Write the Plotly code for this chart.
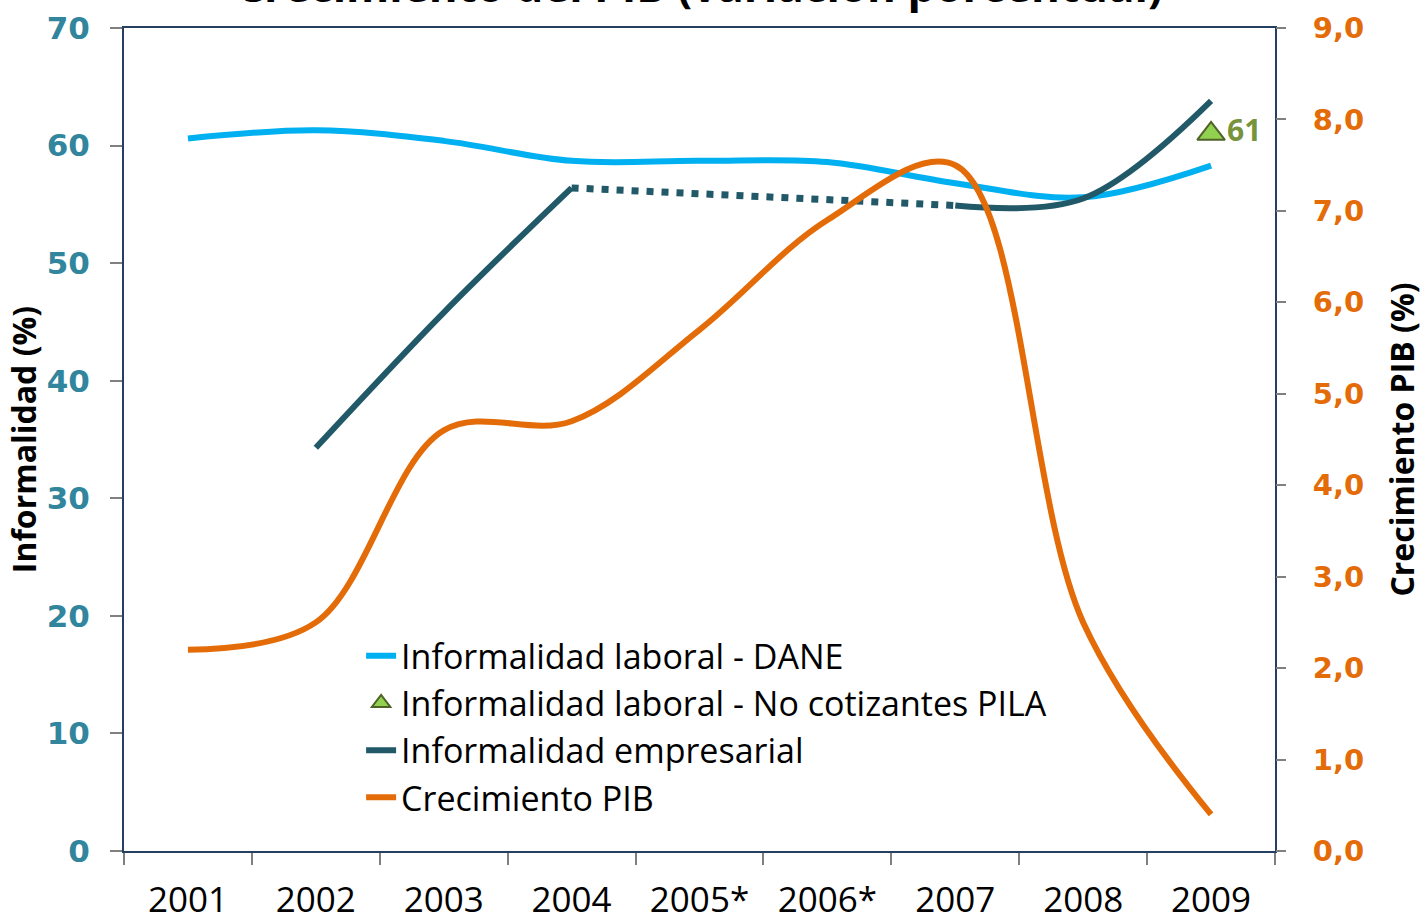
import plotly.graph_objects as go

years = ["2001", "2002", "2003", "2004", "2005*", "2006*", "2007", "2008", "2009"]
dane = [60.6, 61.3, 60.4, 58.7, 58.7, 58.6, 56.8, 55.6, 58.3]
empresarial = [None, 34.3, 45.8, 56.4, None, None, 54.9, 55.5, 63.8]
empresarial_gap = [None, None, None, 56.4, None, None, 54.9, None, None]
pila_year = ["2009"]
pila = [61]
pib = [2.2, 2.5, 4.6, 4.7, 5.7, 6.9, 7.5, 2.5, 0.4]

C_DANE = "#00B0F0"
C_EMP = "#215968"
C_PIB = "#E36C09"
C_LEFT = "#31859C"
C_NAVY = "#243F60"

fig = go.Figure()

fig.add_trace(go.Scatter(
    x=years, y=dane, mode="lines", name="Informalidad laboral - DANE",
    line=dict(color=C_DANE, width=6, shape="spline"), yaxis="y"))
fig.add_trace(go.Scatter(
    x=pila_year, y=pila, mode="markers+text", name="Informalidad laboral - No cotizantes PILA",
    marker=dict(symbol="triangle-up", size=24, color="#92D050",
                line=dict(color="#4F6228", width=2)),
    text=[str(v) for v in pila], textposition="middle right",
    textfont=dict(family="Open Sans", size=30, color="#77933C", weight="bold"),
    yaxis="y"))
fig.add_trace(go.Scatter(
    x=years, y=empresarial, mode="lines", name="Informalidad empresarial",
    line=dict(color=C_EMP, width=6, shape="spline"), connectgaps=False, yaxis="y"))
fig.add_trace(go.Scatter(
    x=years, y=empresarial_gap, mode="lines", showlegend=False,
    line=dict(color=C_EMP, width=7, dash="7px,8px"), connectgaps=True, yaxis="y"))
fig.add_trace(go.Scatter(
    x=years, y=pib, mode="lines", name="Crecimiento PIB",
    line=dict(color=C_PIB, width=6, shape="spline"), yaxis="y2"))

fig.update_layout(
    width=1424, height=919,
    margin=dict(l=124, r=149, t=28, b=68, pad=0),
    paper_bgcolor="white", plot_bgcolor="white",
    separators=",.",
    showlegend=True,
    legend=dict(x=0.206, y=0.272, xanchor="left", yanchor="top",
                bgcolor="rgba(0,0,0,0)",
                font=dict(family="Open Sans", size=34, color="black"),
                tracegroupgap=0, itemwidth=30),
    xaxis=dict(type="category", range=[-0.5, 8.5], showgrid=False, showline=True,
               linecolor=C_NAVY, linewidth=2, mirror=True, ticks="outside",
               tickson="boundaries", ticklen=12, tickcolor="#808080", tickwidth=1.5,
               ticklabelstandoff=17, automargin=False,
               tickfont=dict(family="Open Sans", size=35, color="black"),
               zeroline=False),
    yaxis=dict(range=[0, 70], dtick=10, showgrid=False, showline=True,
               linecolor=C_NAVY, linewidth=2, mirror=True, ticks="outside",
               ticklen=12, tickcolor="#808080", tickwidth=1.5,
               ticklabelstandoff=14, automargin=False,
               tickfont=dict(family="DejaVu Sans", size=31, color=C_LEFT, weight="bold"),
               title=dict(text="Informalidad (%)", standoff=0,
                          font=dict(family="Open Sans", size=32, color="black", weight="bold")),
               zeroline=False),
    yaxis2=dict(range=[0, 9], dtick=1, tickformat=".1f", overlaying="y", side="right",
                showgrid=False, showline=False, ticks="outside", ticklen=10,
                tickcolor="#808080", tickwidth=1.5,
                ticklabelstandoff=21, automargin=False,
                tickfont=dict(family="DejaVu Sans", size=29, color=C_PIB, weight="bold"),
                title=dict(text="Crecimiento PIB (%)", standoff=28,
                           font=dict(family="Open Sans", size=32, color="black", weight="bold")),
                zeroline=False),
    annotations=[dict(text="Crecimiento del PIB (variación porcentual)",
                      xref="paper", yref="paper", x=0.5, y=1.0135, xanchor="center",
                      yanchor="bottom", showarrow=False,
                      font=dict(family="Open Sans", size=44, color="black", weight="bold"))],
)

fig.write_html("out.html", config={"displayModeBar": False},
               post_script="document.body.style.margin='0';")
